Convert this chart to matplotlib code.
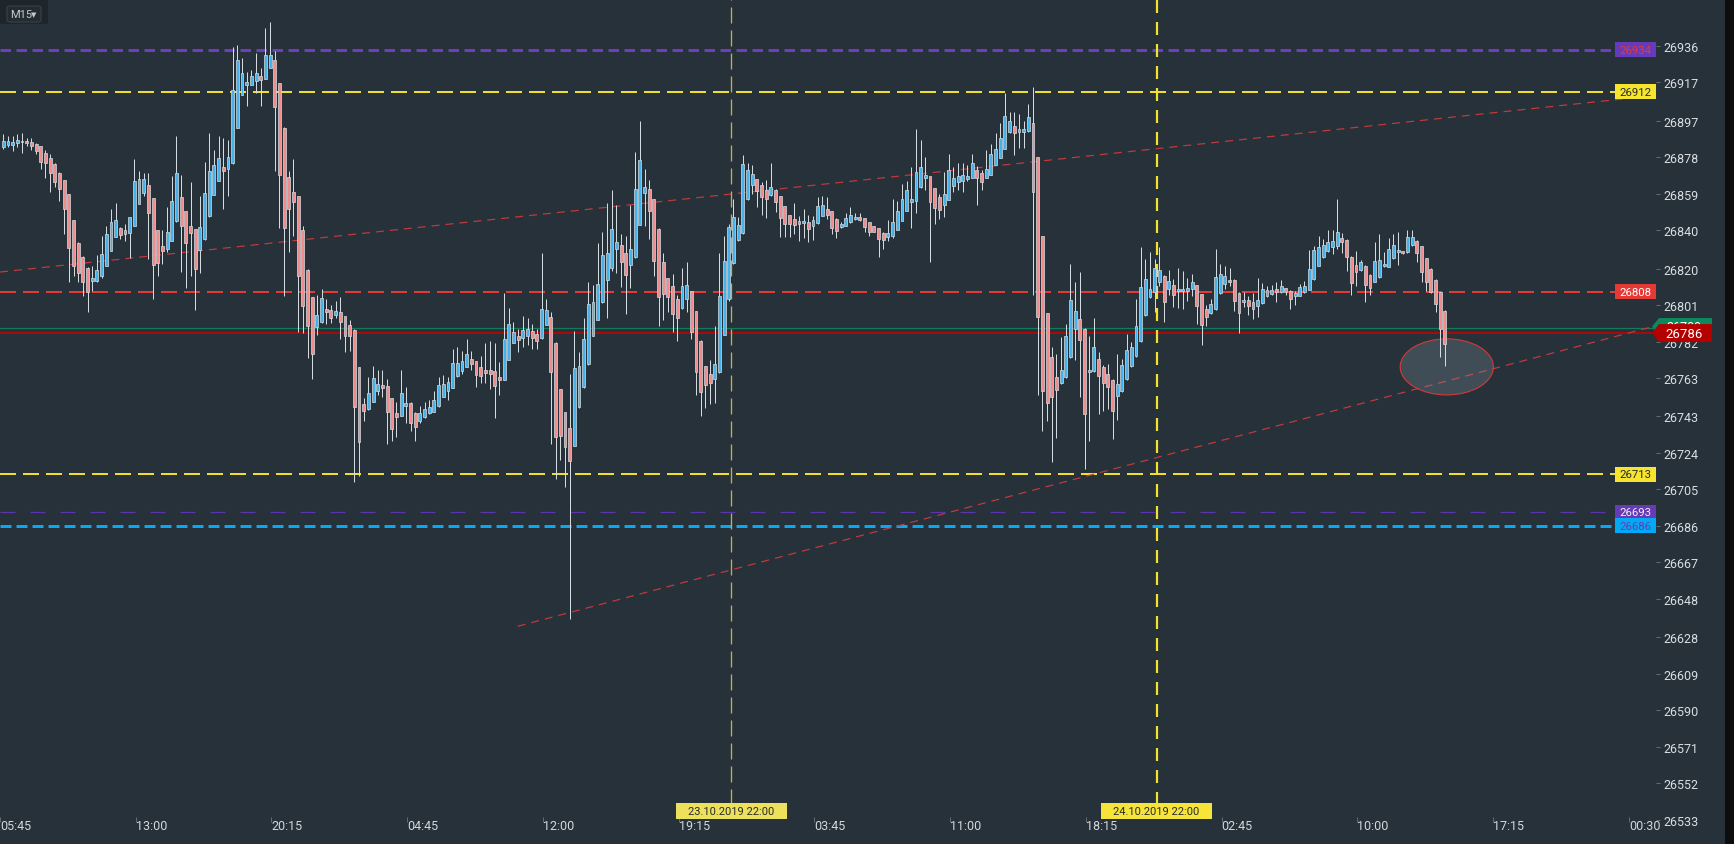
import matplotlib
matplotlib.use('Agg')
import matplotlib.pyplot as plt
import numpy as np
from matplotlib.patches import Ellipse, Polygon, Rectangle, FancyBboxPatch
from matplotlib.transforms import blended_transform_factory

plt.rcParams['font.family'] = ['Roboto', 'DejaVu Sans']
plt.rcParams['lines.scale_dashes'] = False

# ---------------- data (15-minute candles) ----------------
opens = [26883.2, 26884.5, 26884.5, 26885.2, 26886.6, 26886.3, 26886.1, 26885.1, 26883.7, 26880.0,
         26877.4, 26874.3, 26869.6, 26866.0, 26858.7, 26845.1, 26833.2, 26825.9, 26820.1, 26813.7,
         26813.7, 26816.3, 26821.5, 26829.3, 26836.6, 26841.0, 26840.1, 26838.7, 26842.4, 26853.8,
         26859.5, 26863.5, 26856.6, 26839.9, 26831.6, 26830.4, 26834.5, 26844.6, 26857.1, 26849.8,
         26842.0, 26840.5, 26829.7, 26835.2, 26847.2, 26858.5, 26865.8, 26872.7, 26871.7, 26874.8,
         26893.4, 26910.6, 26915.8, 26915.8, 26917.9, 26920.1, 26918.9, 26924.7, 26928.6, 26916.5,
         26893.2, 26867.7, 26859.7, 26857.6, 26840.0, 26819.3, 26805.0, 26789.7, 26792.3, 26799.0,
         26798.4, 26795.8, 26797.2, 26795.1, 26790.6, 26788.0, 26768.6, 26749.5, 26746.9, 26750.7,
         26756.4, 26759.4, 26758.8, 26752.4, 26744.8, 26743.4, 26748.6, 26750.0, 26744.8, 26740.8,
         26742.5, 26744.6, 26745.5, 26748.2, 26753.3, 26756.4, 26758.0, 26764.2, 26766.6, 26768.9,
         26772.7, 26771.7, 26768.6, 26767.2, 26767.2, 26766.5, 26763.5, 26762.1, 26772.6, 26781.4,
         26784.9, 26783.7, 26785.1, 26787.3, 26785.9, 26783.8, 26790.8, 26794.6, 26781.2, 26757.1,
         26745.1, 26736.8, 26727.8, 26747.7, 26758.1, 26770.1, 26785.1, 26793.4, 26802.4, 26814.2,
         26820.5, 26830.4, 26832.3, 26828.1, 26822.0, 26825.9, 26842.9, 26859.5, 26861.4, 26856.1,
         26840.6, 26823.3, 26814.9, 26810.9, 26804.1, 26799.3, 26804.1, 26808.1, 26797.7, 26782.3,
         26769.1, 26764.9, 26762.3, 26766.0, 26785.6, 26804.1, 26822.9, 26834.9, 26838.3, 26856.1,
         26863.5, 26866.5, 26863.3, 26861.1, 26858.1, 26860.9, 26857.6, 26852.4, 26847.7, 26845.8,
         26844.8, 26843.6, 26844.3, 26842.3, 26843.6, 26847.6, 26851.0, 26849.8, 26845.8, 26841.8,
         26842.3, 26844.1, 26845.6, 26846.9, 26846.2, 26844.1, 26842.0, 26841.0, 26838.5, 26836.2,
         26837.1, 26840.2, 26844.9, 26850.1, 26854.8, 26855.3, 26862.3, 26867.3, 26868.0, 26861.8,
         26857.1, 26853.2, 26855.9, 26863.1, 26864.9, 26865.7, 26866.6, 26867.3, 26871.3, 26869.6,
         26867.3, 26868.9, 26874.1, 26877.7, 26882.4, 26890.9, 26894.0, 26891.3, 26891.3, 26891.8,
         26895.6, 26877.9, 26836.8, 26796.7, 26773.7, 26763.3, 26760.2, 26763.3, 26773.7, 26788.5,
         26793.7, 26788.5, 26765.9, 26766.4, 26772.9, 26768.5, 26765.1, 26761.9, 26753.4, 26756.0,
         26762.4, 26769.4, 26774.3, 26782.1, 26795.8, 26805.0, 26807.6, 26812.8, 26816.3, 26809.3,
         26811.4, 26808.1, 26808.1, 26808.5, 26809.3, 26811.4, 26806.5, 26798.9, 26796.6, 26798.9,
         26807.1, 26811.9, 26814.0, 26814.0, 26807.2, 26802.4, 26803.6, 26802.4, 26800.6, 26801.9,
         26805.5, 26806.5, 26809.3, 26807.6, 26809.7, 26808.4, 26805.8, 26805.8, 26807.6, 26809.0,
         26814.5, 26821.5, 26825.8, 26828.9, 26831.0, 26831.9, 26835.7, 26835.0, 26826.2, 26821.8,
         26819.2, 26821.5, 26816.8, 26813.1, 26815.4, 26821.1, 26821.0, 26825.3, 26828.4, 26829.1,
         26828.4, 26832.2, 26834.5, 26831.5, 26825.3, 26819.7, 26814.0, 26807.6, 26798.0]
highs = [26890.1, 26888.9, 26888.9, 26889.9, 26890.5, 26887.8, 26887.8, 26885.4, 26884.0, 26881.8,
         26879.7, 26875.0, 26870.1, 26866.3, 26859.0, 26845.5, 26833.7, 26826.4, 26820.7, 26821.2,
         26827.1, 26837.0, 26842.0, 26850.9, 26854.2, 26841.5, 26843.2, 26846.7, 26877.1, 26870.8,
         26869.8, 26869.8, 26856.9, 26840.3, 26840.3, 26852.1, 26868.2, 26889.1, 26868.8, 26850.2,
         26865.1, 26840.8, 26857.8, 26875.7, 26890.6, 26881.8, 26889.1, 26888.0, 26887.0, 26935.2,
         26936.5, 26929.7, 26922.2, 26923.4, 26932.5, 26924.5, 26945.3, 26948.4, 26933.2, 26916.8,
         26893.6, 26870.8, 26876.9, 26858.0, 26842.0, 26819.8, 26805.4, 26806.2, 26809.4, 26804.2,
         26801.2, 26803.1, 26805.0, 26795.5, 26793.2, 26788.5, 26768.9, 26752.4, 26763.7, 26769.4,
         26767.2, 26767.2, 26762.5, 26752.8, 26750.7, 26767.2, 26758.3, 26750.3, 26745.1, 26748.2,
         26750.5, 26751.5, 26756.1, 26763.5, 26764.6, 26763.4, 26778.1, 26779.0, 26777.1, 26783.3,
         26777.2, 26772.0, 26774.5, 26781.2, 26782.3, 26781.2, 26771.3, 26807.3, 26799.5, 26792.2,
         26788.5, 26795.3, 26794.3, 26791.0, 26788.5, 26828.1, 26804.2, 26797.6, 26781.6, 26757.4,
         26745.5, 26765.1, 26787.5, 26776.5, 26794.1, 26812.8, 26811.4, 26833.3, 26839.0, 26854.2,
         26860.9, 26853.1, 26837.8, 26837.0, 26853.1, 26880.7, 26896.9, 26871.9, 26866.1, 26856.4,
         26841.0, 26828.1, 26815.3, 26817.2, 26806.2, 26820.3, 26823.3, 26808.5, 26798.1, 26782.6,
         26769.4, 26772.4, 26790.3, 26827.9, 26837.1, 26843.2, 26856.2, 26847.0, 26879.2, 26875.0,
         26874.0, 26866.8, 26864.9, 26866.1, 26875.2, 26861.3, 26858.0, 26852.8, 26848.1, 26854.2,
         26847.6, 26851.0, 26847.9, 26847.6, 26857.3, 26858.0, 26857.1, 26850.2, 26846.2, 26844.1,
         26848.9, 26852.1, 26848.9, 26848.9, 26846.5, 26844.4, 26842.3, 26841.3, 26838.8, 26845.3,
         26856.2, 26855.2, 26864.0, 26865.7, 26872.9, 26892.7, 26886.9, 26877.9, 26868.4, 26862.1,
         26858.8, 26870.4, 26879.6, 26872.7, 26875.0, 26875.0, 26873.9, 26879.6, 26873.2, 26871.5,
         26881.7, 26884.7, 26890.6, 26895.8, 26911.2, 26901.3, 26901.5, 26900.6, 26896.8, 26905.7,
         26914.4, 26878.3, 26837.1, 26797.0, 26778.9, 26775.5, 26784.5, 26791.1, 26822.3, 26813.0,
         26818.4, 26788.8, 26785.0, 26794.2, 26776.3, 26769.7, 26770.3, 26762.4, 26775.5, 26772.9,
         26785.9, 26781.5, 26804.1, 26831.0, 26825.0, 26828.4, 26825.0, 26831.0, 26816.6, 26819.2,
         26814.5, 26820.1, 26818.9, 26814.9, 26817.1, 26811.7, 26806.9, 26801.0, 26804.1, 26830.2,
         26822.3, 26821.1, 26820.1, 26814.4, 26807.6, 26807.6, 26805.8, 26807.2, 26814.9, 26812.3,
         26811.1, 26811.4, 26812.8, 26814.2, 26810.0, 26808.8, 26808.4, 26811.9, 26813.7, 26829.6,
         26831.9, 26837.1, 26835.4, 26840.0, 26840.0, 26856.2, 26838.3, 26835.4, 26826.5, 26829.3,
         26824.4, 26821.8, 26817.1, 26834.0, 26838.0, 26828.4, 26835.9, 26838.0, 26838.8, 26829.3,
         26840.0, 26840.0, 26834.8, 26831.9, 26825.6, 26820.1, 26814.4, 26808.0, 26798.4]
lows = [26882.3, 26883.2, 26881.1, 26883.2, 26880.0, 26884.0, 26882.0, 26879.7, 26871.9, 26867.4,
        26860.1, 26862.3, 26855.4, 26838.2, 26812.8, 26816.3, 26812.8, 26805.6, 26797.6, 26808.5,
        26813.2, 26815.3, 26821.2, 26829.0, 26836.3, 26835.4, 26834.5, 26825.3, 26842.0, 26853.5,
        26858.0, 26825.0, 26804.2, 26816.3, 26822.4, 26828.5, 26834.2, 26844.3, 26818.4, 26809.7,
        26816.3, 26798.6, 26817.5, 26834.9, 26846.9, 26858.2, 26865.5, 26851.0, 26858.0, 26874.5,
        26893.1, 26910.2, 26904.9, 26915.5, 26911.5, 26904.9, 26918.6, 26924.3, 26871.0, 26841.1,
        26805.6, 26828.5, 26837.2, 26786.8, 26786.4, 26773.4, 26762.5, 26785.4, 26791.5, 26791.1,
        26791.6, 26794.1, 26783.3, 26776.7, 26777.2, 26708.7, 26711.8, 26740.8, 26746.5, 26750.3,
        26754.1, 26753.3, 26728.6, 26730.4, 26732.4, 26743.0, 26739.6, 26735.6, 26730.4, 26739.6,
        26742.2, 26744.3, 26745.1, 26747.9, 26752.9, 26751.5, 26757.6, 26763.5, 26765.1, 26768.6,
        26767.3, 26758.3, 26760.4, 26760.4, 26757.3, 26742.2, 26754.1, 26761.8, 26772.2, 26781.1,
        26776.7, 26779.3, 26780.2, 26778.1, 26778.1, 26783.5, 26790.4, 26728.6, 26710.4, 26720.5,
        26706.4, 26637.5, 26727.4, 26747.4, 26757.8, 26769.8, 26784.7, 26793.0, 26802.1, 26794.3,
        26818.9, 26817.7, 26810.6, 26796.3, 26809.7, 26825.5, 26842.5, 26842.3, 26835.4, 26815.9,
        26790.3, 26793.2, 26797.6, 26786.8, 26782.4, 26798.9, 26797.2, 26783.3, 26754.2, 26743.4,
        26747.6, 26749.5, 26749.8, 26765.6, 26785.2, 26803.3, 26822.6, 26834.5, 26838.0, 26855.7,
        26858.8, 26852.2, 26848.1, 26846.5, 26857.6, 26849.3, 26836.3, 26836.3, 26836.3, 26838.0,
        26834.5, 26836.1, 26833.7, 26834.9, 26843.2, 26847.2, 26845.8, 26838.0, 26835.9, 26841.3,
        26842.0, 26843.7, 26845.3, 26844.9, 26838.9, 26836.8, 26838.9, 26826.2, 26830.2, 26834.5,
        26835.7, 26839.9, 26844.6, 26849.8, 26841.1, 26848.9, 26861.9, 26861.1, 26823.6, 26843.2,
        26845.8, 26847.0, 26855.5, 26860.0, 26860.9, 26860.0, 26865.4, 26867.0, 26853.1, 26860.9,
        26867.0, 26868.5, 26873.7, 26877.4, 26882.1, 26890.6, 26879.3, 26882.8, 26882.8, 26890.9,
        26806.2, 26754.1, 26735.5, 26740.7, 26719.4, 26731.6, 26759.8, 26763.0, 26773.4, 26772.3,
        26753.2, 26715.6, 26730.3, 26766.1, 26744.2, 26746.0, 26746.8, 26731.2, 26741.1, 26755.7,
        26762.1, 26768.5, 26773.9, 26781.7, 26795.4, 26804.5, 26797.2, 26810.7, 26792.3, 26806.2,
        26799.8, 26799.4, 26798.9, 26803.2, 26805.8, 26791.1, 26780.3, 26790.2, 26796.3, 26798.6,
        26806.7, 26809.3, 26811.1, 26798.0, 26786.4, 26799.8, 26795.8, 26793.7, 26794.6, 26801.5,
        26805.1, 26806.2, 26802.4, 26807.2, 26806.2, 26798.9, 26801.2, 26805.5, 26807.2, 26808.6,
        26814.2, 26821.1, 26825.5, 26828.6, 26827.5, 26830.2, 26827.9, 26818.9, 26806.2, 26811.1,
        26818.9, 26802.4, 26806.2, 26812.8, 26815.0, 26820.8, 26820.6, 26824.9, 26821.8, 26827.5,
        26828.1, 26831.9, 26823.6, 26812.8, 26808.4, 26807.2, 26797.5, 26773.7, 26769.4]
closes = [26886.6, 26886.3, 26885.8, 26887.2, 26885.8, 26885.2, 26884.0, 26881.4, 26875.7, 26874.8,
          26870.0, 26864.9, 26861.6, 26851.2, 26830.9, 26821.2, 26817.9, 26813.2, 26807.6, 26815.1,
          26819.3, 26827.4, 26838.0, 26844.3, 26845.3, 26837.7, 26838.2, 26846.7, 26865.5, 26866.5,
          26866.7, 26849.1, 26822.0, 26823.1, 26829.3, 26839.1, 26855.0, 26869.8, 26842.0, 26833.2,
          26838.4, 26819.9, 26841.5, 26859.4, 26870.7, 26873.8, 26877.4, 26871.0, 26878.0, 26912.8,
          26928.6, 26921.9, 26917.2, 26920.3, 26921.7, 26918.4, 26931.3, 26931.3, 26904.3, 26868.6,
          26841.3, 26851.2, 26854.9, 26816.0, 26800.7, 26790.3, 26775.5, 26795.8, 26804.5, 26797.2,
          26794.4, 26798.1, 26792.3, 26785.1, 26785.1, 26748.1, 26729.5, 26746.0, 26755.2, 26762.8,
          26759.7, 26758.0, 26745.5, 26736.4, 26742.5, 26755.2, 26750.0, 26739.4, 26737.7, 26744.8,
          26746.9, 26747.9, 26751.5, 26759.4, 26759.7, 26760.7, 26770.8, 26770.8, 26771.9, 26775.3,
          26770.3, 26764.7, 26764.2, 26765.8, 26765.1, 26759.0, 26762.1, 26783.3, 26791.0, 26787.1,
          26783.0, 26788.0, 26788.5, 26783.7, 26782.4, 26798.8, 26798.4, 26766.3, 26732.4, 26733.0,
          26727.2, 26719.9, 26768.0, 26769.1, 26783.3, 26801.4, 26802.6, 26812.0, 26827.1, 26828.1,
          26840.6, 26833.8, 26823.6, 26816.8, 26830.2, 26861.4, 26876.5, 26862.5, 26850.2, 26824.1,
          26805.4, 26806.8, 26805.4, 26796.3, 26794.3, 26810.7, 26811.4, 26786.8, 26766.0, 26755.5,
          26759.5, 26760.2, 26770.1, 26805.5, 26823.8, 26841.5, 26846.7, 26842.7, 26874.3, 26871.2,
          26869.3, 26860.2, 26857.4, 26856.4, 26862.3, 26854.5, 26846.2, 26843.0, 26843.0, 26842.9,
          26843.0, 26844.8, 26840.6, 26845.3, 26852.4, 26853.1, 26848.1, 26841.0, 26839.7, 26843.2,
          26846.3, 26847.7, 26846.9, 26845.5, 26841.5, 26839.2, 26839.2, 26835.4, 26835.0, 26838.5,
          26844.0, 26849.8, 26856.2, 26860.9, 26856.2, 26870.1, 26872.7, 26868.7, 26854.8, 26851.3,
          26850.6, 26858.6, 26871.3, 26867.1, 26868.2, 26868.7, 26868.0, 26875.0, 26867.3, 26865.2,
          26871.8, 26879.5, 26882.1, 26887.8, 26899.3, 26896.7, 26890.4, 26892.7, 26892.7, 26898.7,
          26859.7, 26794.6, 26756.4, 26749.8, 26752.9, 26756.9, 26767.1, 26784.7, 26803.6, 26797.7,
          26782.9, 26744.2, 26767.1, 26779.1, 26763.8, 26760.2, 26758.1, 26745.6, 26759.8, 26769.7,
          26777.5, 26778.9, 26790.2, 26810.2, 26814.4, 26809.2, 26820.1, 26819.0, 26802.4, 26813.3,
          26806.2, 26809.3, 26809.3, 26809.8, 26812.8, 26800.6, 26790.7, 26794.9, 26801.5, 26815.4,
          26817.1, 26815.9, 26812.8, 26803.2, 26796.6, 26803.6, 26800.6, 26799.2, 26803.6, 26809.3,
          26808.8, 26808.8, 26807.6, 26810.7, 26807.6, 26804.1, 26807.2, 26810.5, 26810.7, 26819.7,
          26829.6, 26831.0, 26832.4, 26834.0, 26834.3, 26838.8, 26834.0, 26825.8, 26812.3, 26818.0,
          26823.2, 26811.6, 26809.8, 26823.7, 26824.4, 26822.3, 26830.2, 26832.2, 26829.6, 26827.9,
          26836.2, 26836.2, 26827.9, 26818.3, 26813.1, 26807.6, 26801.5, 26788.5, 26780.7]

time_labels = ['05:45', '13:00', '20:15', '04:45', '12:00', '19:15', '03:45',
               '11:00', '18:15', '02:45', '10:00', '17:15', '00:30']
time_tick_bars = [-0.7, 28.3, 57.3, 86.3, 115.3, 144.3, 173.3,
                  202.3, 231.3, 260.3, 289.3, 318.3, 347.3]
price_ticks = [26936, 26917, 26897, 26878, 26859, 26840, 26820, 26801, 26782, 26763, 26743,
               26724, 26705, 26686, 26667, 26648, 26628, 26609, 26590, 26571, 26552, 26533]

day_line_bars = [155.5, 246.4]
day_labels = ['23.10.2019 22:00', '24.10.2019 22:00']

# horizontal levels
level_prices = [26934, 26912, 26808, 26713, 26693, 26686]
level_labels = ['26934', '26912', '26808', '26713', '26693', '26686']
last_price = 26786.4
bid_price = 26788.8

# trend lines (bar, price) anchor pairs
trend1_bars = [-0.7, 352.0]
trend1_prices = [26818.2, 26909.9]
trend2_bars = [109.9, 352.3]
trend2_prices = [26633.7, 26789.7]

# ellipse (bar, price, width in bars, height in price)
ellipse_spec = (308.4, 26768.8, 19.9, 29.2)

# ---------------- figure ----------------
W, H = 1734, 845
BG = '#273139'
PT = 0.72  # points per pixel
AX_W = 1656
BAR_PX = 4.68

fig = plt.figure(figsize=(W / 100, H / 100), dpi=100)
fig.patch.set_facecolor(BG)
ax = fig.add_axes([0, 0, AX_W / W, 1])
ax.set_facecolor(BG)
YMIN, YMAX = 26520.3, 26960.4
ax.set_xlim(-0.705, 353.1)
ax.set_ylim(YMIN, YMAX)
for s in ax.spines.values():
    s.set_visible(False)
ppu = H / (YMAX - YMIN)  # pixels per price unit

def ypx(py):
    """price at a given pixel row from top"""
    return YMAX - py / ppu

# price axis
ax.yaxis.tick_right()
ax.set_yticks(price_ticks)
ax.set_yticklabels([str(v) for v in price_ticks])
ax.tick_params(axis='y', length=4 * PT, width=1 * PT, color='#5f6b73', pad=2.5,
               labelsize=9, labelcolor='#d9dee2')
ax.tick_params(axis='x', length=0, labelbottom=False)
ax.set_xticks([])

# horizontal levels
lvl_styles = [
    dict(color='#6a3fc0', lw=3 * PT, ls=(0, (10.5 * PT, 5.5 * PT))),
    dict(color='#f0de2c', lw=2 * PT, ls=(0, (16 * PT, 7 * PT))),
    dict(color='#e53935', lw=2 * PT, ls=(0, (16 * PT, 7 * PT))),
    dict(color='#f0de2c', lw=2 * PT, ls=(0, (16 * PT, 7 * PT))),
    dict(color='#5a35b0', lw=1.2 * PT, ls=(0, (15 * PT, 15 * PT))),
    dict(color='#0aa8f0', lw=3 * PT, ls=(0, (11 * PT, 5 * PT))),
]
for p, st in zip(level_prices, lvl_styles):
    ax.axhline(p, color=st['color'], lw=st['lw'], ls=st['ls'], zorder=2)

ax.axhline(bid_price, color='#157a5c', lw=1.3 * PT, zorder=2)
ax.axhline(last_price, color='#c80000', lw=1.6 * PT, zorder=2)

# trend lines
tl_style = dict(color='#c43a3c', lw=1.2 * PT, ls=(0, (8 * PT, 6 * PT)), zorder=2)
ax.plot(trend1_bars, trend1_prices, **tl_style)
ax.plot(trend2_bars, trend2_prices, **tl_style)

# day separator lines + labels
bl = blended_transform_factory(ax.transData, ax.transAxes)
line_top = YMAX
line_bot = ypx(806)
ax.vlines(day_line_bars[0], line_bot, line_top, colors='#c4b43e', lw=1.3 * PT,
          linestyles=[(0, (16 * PT, 7 * PT))], zorder=3)
ax.vlines(day_line_bars[1], line_bot, line_top, colors='#f2e130', lw=2.2 * PT,
          linestyles=[(0, (13 * PT, 9 * PT))], zorder=3)

# ellipse
ex, ey, ew, eh = ellipse_spec
ax.add_patch(Ellipse((ex, ey), ew, eh, facecolor=(0.54, 0.60, 0.65, 0.27),
                     edgecolor='#d23a3a', lw=1.1 * PT, zorder=3))

# candles
o = np.array(opens); h = np.array(highs); l = np.array(lows); c = np.array(closes)
x = np.arange(len(o))
up = c >= o
EDGE = '#d3dbe0'
ax.vlines(x, l, h, colors=EDGE, lw=1.0 * PT, zorder=4)
body_b = np.minimum(o, c)
body_h = np.maximum(np.abs(c - o), 0.7)
cols = ['#45b2ec' if u else '#f08c8c' for u in up]
ax.bar(x, body_h, bottom=body_b, width=0.62, color=cols, edgecolor=EDGE,
       linewidth=0.7 * PT, zorder=5)

# time labels and ticks
yfrac_lbl = (H - 827) / H
for b, t in zip(time_tick_bars, time_labels):
    ax.text(b, yfrac_lbl, t, transform=bl, ha='left', va='center', fontsize=9,
            color='#d2d8dc', zorder=6)
ax.vlines(time_tick_bars, (H - 823) / H, (H - 818) / H, transform=bl,
          colors='#5f6b73', lw=1 * PT, zorder=6)

# day label boxes
fx = blended_transform_factory(fig.transFigure, ax.transData)
day_box_cols = ['#ece05c', '#f7e43a']
box_w_bars = 111 / BAR_PX
for b, lab, col in zip(day_line_bars, day_labels, day_box_cols):
    ax.add_patch(Rectangle((b - box_w_bars / 2, (H - 820) / H), box_w_bars, 16 / H,
                           transform=bl, facecolor=col, edgecolor='none', zorder=7,
                           clip_on=False))
    ax.text(b, (H - 812) / H, lab, transform=bl, ha='center', va='center', fontsize=8,
            color='#2a2a2a', zorder=8)

# price tags on right
tag_bg = ['#673ab7', '#f5e52e', '#e53935', '#f5e52e', '#673ab7', '#03a9f4']
tag_fg = ['#e53935', '#2a2a2a', '#ffffff', '#2a2a2a', '#f0f0f0', '#673ab7']
tag_h = 15 / ppu
for p, lab, bgc, fgc in zip(level_prices, level_labels, tag_bg, tag_fg):
    ax.add_patch(Rectangle((1615 / W, p - tag_h / 2), 41 / W, tag_h, transform=fx,
                           facecolor=bgc, edgecolor='none', clip_on=False, zorder=9))
    ax.text(1635.5 / W, p, lab, transform=fx, ha='center', va='center', fontsize=8.2,
            color=fgc, zorder=10, clip_on=False)

def tag_poly(price, hpx, color, txt, fs, z):
    hh = hpx / ppu / 2
    pts = [(1652 / W, price), (1659 / W, price + hh), (1712 / W, price + hh),
           (1712 / W, price - hh), (1659 / W, price - hh)]
    ax.add_patch(Polygon(pts, closed=True, transform=fx, facecolor=color,
                         edgecolor='none', clip_on=False, zorder=z))
    ax.text(1684 / W, price, txt, transform=fx, ha='center', va='center',
            fontsize=fs, color='#ffffff', zorder=z + 0.5, clip_on=False)

tag_poly(bid_price + 1.0, 17, '#0b8a5e', '26789', 9, 11)
tag_poly(last_price, 18, '#b50000', '26786', 9.5, 13)

# right dark strip
fig.patches.append(Rectangle((1725 / W, 0), 9 / W, 1, transform=fig.transFigure,
                             facecolor='#0b0d0f', edgecolor='none', zorder=20))

# timeframe widget top-left
fig.patches.append(Rectangle((0, 1 - 25 / H), 48 / W, 25 / H, transform=fig.transFigure,
                             facecolor='#1e262c', edgecolor='none', zorder=20))
fig.patches.append(FancyBboxPatch((7 / W, 1 - 23 / H), 34 / W, 16 / H,
                                  boxstyle='round,pad=0,rounding_size=0.002',
                                  transform=fig.transFigure, facecolor='#232c33',
                                  edgecolor='#36424a', lw=0.8, zorder=21))
fig.text(10.5 / W, 1 - 15.5 / H, 'M15', fontsize=8, color='#c5ccd0', ha='left',
         va='center', zorder=22)
fig.text(30.5 / W, 1 - 15 / H, '\u25BC', fontsize=5, color='#c5ccd0', ha='left',
         va='center', zorder=22, family=['DejaVu Sans'])

fig.savefig('out.png', dpi=100, facecolor=BG)
